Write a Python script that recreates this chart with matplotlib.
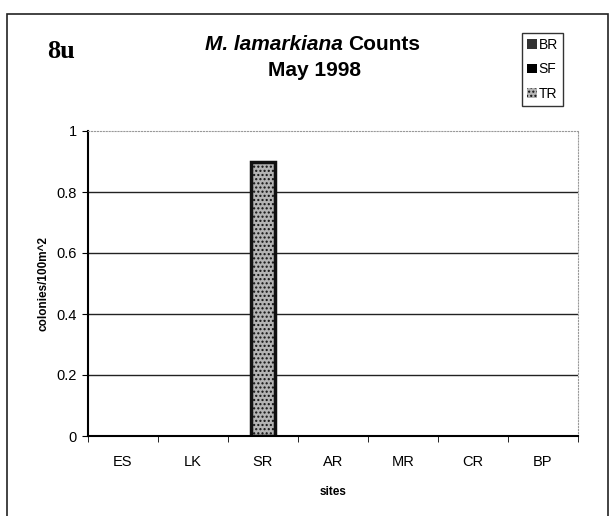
import numpy as np
import matplotlib.pyplot as plt
from matplotlib.patches import Rectangle

plt.rcParams['font.family'] = ['Liberation Sans', 'DejaVu Sans']

sites = ['ES', 'LK', 'SR', 'AR', 'MR', 'CR', 'BP']
br = [0, 0, 0, 0, 0, 0, 0]
sf = [0, 0, 0, 0, 0, 0, 0]
tr = [0, 0, 0.9, 0, 0, 0, 0]
yticks = [0, 0.2, 0.4, 0.6, 0.8, 1]

W, H = 609, 516
fig = plt.figure(figsize=(W / 100, H / 100), dpi=100)

# outer chart frame
fig.patches.append(Rectangle((7 / W, -0.01), (601 / W), 1 - 14 / H + 0.01,
                             transform=fig.transFigure, fill=False,
                             edgecolor='#222222', linewidth=1.2))

ax = fig.add_axes([88 / W, 1 - 436 / H, 490 / W, 305 / H])
x = np.arange(len(sites))
bw = 0.33
ax.bar(x, br, bw, color='#333333', linewidth=0, label='BR')
ax.bar(x, sf, bw, bottom=br, color='black', linewidth=0, label='SF')
bot = np.array(br) + np.array(sf)
lw = [2.5 if v > 0 else 0 for v in tr]
ax.bar(x, tr, bw, bottom=bot, color='#b4b4b4', edgecolor='#111111',
       linewidth=lw, hatch='....', label='TR')

ax.set_xlim(-0.5, len(sites) - 0.5)
ax.set_ylim(0, 1)
ax.set_yticks(yticks)
ax.set_yticklabels(['0', '0.2', '0.4', '0.6', '0.8', '1'])
ax.set_xticks(x)
ax.set_xticklabels(sites)
ax.set_xticks(np.arange(-0.5, len(sites), 1), minor=True)
ax.tick_params(axis='x', which='major', length=0, pad=14, labelsize=10.5)
ax.tick_params(axis='x', which='minor', length=4, direction='out')
ax.tick_params(axis='y', length=4, direction='out', labelsize=10.5, pad=4)
for yv in yticks[1:-1]:
    ax.axhline(yv, color='#222222', linewidth=1.0, zorder=0)
ax.spines['left'].set_linewidth(1.5)
ax.spines['bottom'].set_linewidth(1.5)
for s in ['top', 'right']:
    ax.spines[s].set_color('#999999')
    ax.spines[s].set_linestyle(':')
    ax.spines[s].set_linewidth(0.8)

ax.set_xlabel('sites', fontsize=8.5, fontweight='bold', labelpad=12)
ax.set_ylabel('colonies/100m^2', fontsize=8.5, fontweight='bold', labelpad=5)

fig.text(343 / W, 1 - 45 / H, 'M. lamarkiana', ha='right', va='center',
         fontsize=15, fontweight='bold', style='italic')
fig.text(348 / W, 1 - 45 / H, 'Counts', ha='left', va='center',
         fontsize=15, fontweight='bold')
fig.text(314 / W, 1 - 70 / H, 'May 1998', ha='center', va='center',
         fontsize=15, fontweight='bold')
fig.text(47 / W, 1 - 52 / H, '8u', ha='left', va='center', fontsize=19,
         fontweight='bold', family='Liberation Serif')

leg = ax.legend(loc='upper left', bbox_to_anchor=(522 / W, 1 - 33 / H),
                bbox_transform=fig.transFigure, frameon=True, fancybox=False,
                edgecolor='black', fontsize=10, handlelength=0.7,
                handleheight=0.7, handletextpad=0.15, borderpad=0.35,
                labelspacing=0.75, borderaxespad=0)
leg.get_frame().set_linewidth(1.0)

fig.savefig('out.png', dpi=100)
